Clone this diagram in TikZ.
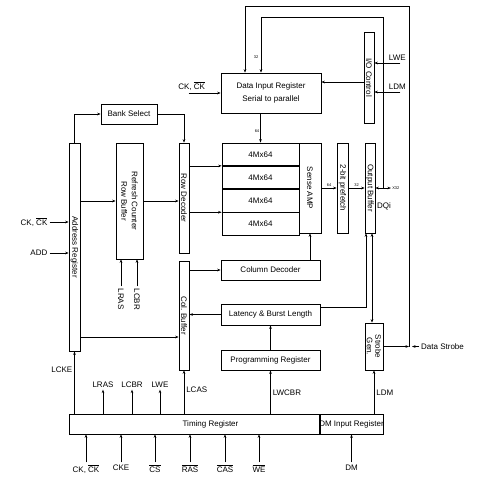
\documentclass[tikz,border=0pt]{standalone}
\usepackage{fontspec}
\setmainfont{Liberation Sans}
\usetikzlibrary{arrows.meta,positioning}
\newcommand{\ovl}[1]{$\overline{\mbox{#1}}$}

\begin{document}
\begin{tikzpicture}[x=1pt, y=-1pt,
  lbl/.style={font=\fontsize{8}{9.6}\selectfont, inner sep=2pt},
  tiny/.style={font=\fontsize{4}{5}\selectfont, inner sep=1pt},
  blk/.style={draw, line width=0.7pt, font=\fontsize{8}{9.6}\selectfont, inner sep=0pt, align=center},
  vblk/.style={blk, label={[font=\fontsize{8}{8.5}\selectfont, inner sep=0pt, rotate=-90, align=center]center:#1}},
  cell/.style={blk, minimum width=77, minimum height=22.5},
  arr/.style={-{Stealth[length=3.5pt,width=2.6pt]}, line width=0.6pt},
  dbl/.style={{Stealth[length=3.5pt,width=2.6pt]}-{Stealth[length=3.5pt,width=2.6pt]}, line width=0.6pt}
]
  \useasboundingbox (0,0) rectangle (486,498);

  % blocks
  \node[blk, minimum width=100, minimum height=40] (dir) at (271,93) {Data Input Register\\[4pt]Serial to parallel};
  \node[vblk=I/O Control, minimum width=10, minimum height=91] (ioc) at (369,77.5) {};
  \node[blk, minimum width=56, minimum height=20] (bank) at (129,114) {Bank Select};
  \node[vblk=Address Register, minimum width=11, minimum height=208] (addr) at (74.5,247) {};
  \node[vblk={Refresh Counter\\[2pt]Row Buffer}, minimum width=27, minimum height=116] (rcnt) at (129.5,201) {};
  \node[vblk=Row Decoder, minimum width=10, minimum height=110] (rdec) at (184,198) {};

  % memory array
  \node[cell] (m1) at (260.5,154.25) {4Mx64};
  \node[cell, below=0pt of m1] (m2) {4Mx64};
  \node[cell, below=0pt of m2] (m3) {4Mx64};
  \node[cell, below=0pt of m3] (m4) {4Mx64};
  \node[vblk=Sense AMP, minimum width=22, minimum height=90] (samp) at (310,188) {};
  \node[vblk=2-bit prefetch, minimum width=11, minimum height=90] (pref) at (342.5,188) {};
  \node[vblk=Output Buffer, minimum width=10, minimum height=90] (obuf) at (370,188) {};

  \node[blk, minimum width=99, minimum height=20] (coldec) at (270.5,270) {Column Decoder};
  \node[vblk=Col. Buffer, minimum width=10, minimum height=109] (cbuf) at (184,315.5) {};
  \node[blk, minimum width=99, minimum height=21] (lat) at (270.5,314.5) {Latency \& Burst Length};
  \node[blk, minimum width=99, minimum height=20] (prog) at (270.5,360) {Programming Register};
  \node[vblk={Strobe\\Gen.}, minimum width=18, minimum height=47] (sgen) at (374,346.5) {};
  \node[blk, minimum width=251, minimum height=20, label={[lbl,xshift=16pt]center:Timing Register}] (treg) at (194.5,424) {};
  \node[blk, minimum width=63, minimum height=20] (dmreg) at (351.5,424) {DM Input Register};

  \node[lbl, anchor=west] (ds) at (419,346.5) {Data Strobe};
  \node[lbl] (dqi) at (384,206) {DQi};
  \node[tiny] (w32) at (256,57) {32};

  \coordinate (din1) at ([xshift=-26pt]dir.north);
  \coordinate (din2) at ([xshift=-10pt]dir.north);
  \coordinate (jdq) at (383,188);
  \coordinate (dq) at (391,188);
  \coordinate (jds) at (sgen.east -| 409,0);
  \coordinate (ob1) at ([xshift=-4pt]obuf.south);
  \coordinate (ob2) at ([xshift=2pt]obuf.south);

  % data path
  \draw[arr] (dir.west) ++(-32,0) node[lbl, above, xshift=3pt] {CK, \ovl{CK}} -- (dir.west);
  \draw[arr] ([yshift=-4.5pt]ioc.west) -- ([yshift=-4.5pt]ioc.west -| dir.east);
  \draw[arr] (ioc.east |- 0,63) ++(26,0) node[lbl, above, xshift=-3pt] {LWE} -- (ioc.east |- 0,63);
  \draw[arr] (ioc.east |- 0,92) ++(26,0) node[lbl, above, xshift=-3pt] {LDM} -- (ioc.east |- 0,92);
  \draw[arr] (jds) -- (jds |- 0,6) -| (din1);
  \draw[arr] (jdq) -- (jdq |- 0,17) -| (din2);
  \draw[arr] (m1.north |- dir.south) -- (m1.north) node[tiny, left, pos=0.6] {64};
  \draw[arr] (samp.east) -- (pref.west) node[tiny, above, midway] {64};
  \draw[arr] (pref.east) -- (obuf.west) node[tiny, above, midway] {32};
  \draw[dbl] (obuf.east) -- (dq) node[tiny, right] {X32};

  % address path
  \draw[arr] (addr.west |- 0,222) ++(-19,0) node[lbl, left] {CK, \ovl{CK}} -- (addr.west |- 0,222);
  \draw[arr] (addr.west |- 0,253) ++(-19,0) node[lbl, left] {ADD} -- (addr.west |- 0,253);
  \draw[arr] (addr.north) |- (bank.west);
  \draw[arr] (bank.east) -| (rdec.north);
  \draw[arr] (addr.east |- rcnt.west) -- (rcnt.west);
  \draw[arr] (rcnt.east) -- (rcnt.east -| rdec.west);
  \draw[arr] (rdec.east |- m1.south west) -- (m1.south west);
  \draw[arr] (rdec.east |- m3.south west) -- (m3.south west);
  \foreach \xx/\txt in {121/LRAS,137/LCBR}
    \draw[arr] (rcnt.south -| \xx,0) ++(0,27) node[lbl, rotate=-90, anchor=west] {\txt} -- (rcnt.south -| \xx,0);
  \draw[arr] (addr.east |- 0,337) -- (cbuf.west |- 0,337);
  \draw[arr] (cbuf.east |- coldec.west) -- (coldec.west);
  \draw[arr] (coldec.north -| samp.south) -- (samp.south);
  \draw[arr] (lat.west) -- (lat.west -| cbuf.east);
  \draw[arr] (prog.north) -- (lat.south);

  % strobe
  \draw[arr] ([yshift=7pt]lat.east) -| (ob1);
  \draw[dbl] (ob2) -- (ob2 |- sgen.north);
  \draw[arr] (sgen.east) -- (jds);
  \draw[arr] (ds.west) -- ([xshift=3pt]jds);

  % timing register outputs
  \draw[arr] (addr.south |- treg.north) -- (addr.south) node[lbl, left, pos=0.7] {LCKE};
  \foreach \xx/\txt in {103/LRAS,132/LCBR,160/LWE}
    \draw[arr] (treg.north -| \xx,0) -- ++(0,-24) node[lbl, above] {\txt};
  \draw[arr] (cbuf.south |- treg.north) -- (cbuf.south) node[lbl, right, pos=0.55] {LCAS};
  \draw[arr] (prog.south |- treg.north) -- (prog.south) node[lbl, right, pos=0.48] {LWCBR};
  \draw[arr] (sgen.south |- dmreg.north) -- (sgen.south) node[lbl, right, pos=0.48] {LDM};

  % inputs
  \foreach \xx/\txt in {86/{CK, \ovl{CK}},121/CKE,155/\ovl{CS},190/\ovl{RAS},225/\ovl{CAS},259/\ovl{WE}}
    \draw[arr] (treg.south -| \xx,0) ++(0,28) node[lbl, below] {\txt} -- (treg.south -| \xx,0);
  \draw[arr] (dmreg.south) ++(0,28) node[lbl, below] {DM} -- (dmreg.south);
\end{tikzpicture}
\end{document}
